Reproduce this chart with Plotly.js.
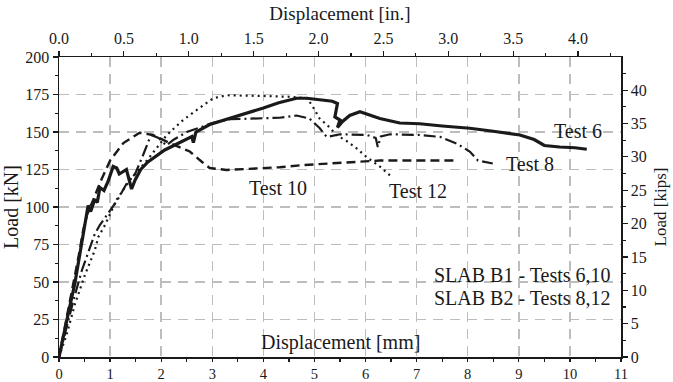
<!DOCTYPE html>
<html>
<head>
<meta charset="utf-8">
<script src="https://cdn.plot.ly/plotly-3.0.1.min.js"></script>
<style>html,body{margin:0;padding:0;background:#fff;}#chart{width:673px;height:382px;}</style>
</head>
<body>
<div id="chart"></div>
<script>
// Displacement [mm] and Load [kN]
const test6_x = [0, 0.1, 0.21, 0.31, 0.41, 0.51, 0.57, 0.62, 0.7, 0.75, 0.8, 0.88, 0.96, 1.06, 1.13, 1.18, 1.23, 1.32, 1.42, 1.49, 1.6, 1.74, 2.07, 2.3, 2.6, 2.63, 2.68, 2.95, 3.35, 3.54, 4.0, 4.3, 4.65, 4.85, 5.1, 5.35, 5.45, 5.4, 5.5, 5.45, 5.55, 5.69, 5.89, 6.28, 6.67, 7.06, 7.5, 8.04, 8.5, 9.02, 9.3, 9.5, 9.8, 10.1, 10.33];
const test6_y = [0, 17, 33.5, 49, 69, 91, 101, 97, 105, 103, 113, 111, 117, 127, 126, 122, 123, 125, 112, 118, 125, 130, 138, 142, 147, 143, 150, 155, 159, 161, 166, 169.5, 172.5, 172.5, 171.5, 170.5, 169, 160, 158, 153, 157, 161, 163.5, 159, 156, 155.5, 154, 152.5, 150.5, 148, 145, 141, 140, 139.5, 138.5];

const test8_x = [0, 0.15, 0.3, 0.45, 0.6, 0.7, 0.8, 1.0, 1.15, 1.33, 1.49, 1.65, 1.8, 1.95, 2.1, 2.25, 2.5, 2.76, 3.0, 3.35, 4.0, 4.32, 4.65, 4.9, 5.1, 5.24, 5.5, 6.03, 6.2, 6.24, 6.3, 6.48, 7.06, 7.46, 7.8, 8.04, 8.2, 8.49];
const test8_y = [0, 20, 40, 58, 72, 82, 88, 98, 105, 116, 122, 135, 148, 146, 141, 145, 150, 153, 156, 158.5, 159, 159.5, 161, 159, 152.7, 146.7, 148.5, 148, 146, 140, 147, 148.5, 148, 146.7, 142, 137, 131, 129];

const test10_x = [0, 0.1, 0.2, 0.3, 0.4, 0.47, 0.55, 0.67, 0.8, 1.0, 1.26, 1.58, 1.84, 2.17, 2.56, 2.8, 2.95, 3.28, 3.8, 4.32, 4.8, 5.3, 5.8, 6.28, 7.06, 7.78];
const test10_y = [0, 17, 34, 52, 70, 84, 95, 104.7, 116, 131, 142.6, 149.5, 148, 142.6, 137, 130, 126, 124.7, 125.5, 126.5, 128, 129, 130, 131, 131, 131];

const test12_x = [0, 0.15, 0.31, 0.51, 0.7, 0.77, 0.9, 1.13, 1.39, 1.72, 2.11, 2.43, 2.75, 3.02, 3.28, 3.6, 4.0, 4.5, 4.85, 4.95, 5.1, 5.3, 5.43, 5.63, 5.83, 6.03, 6.28, 6.48];
const test12_y = [0, 15, 35, 55, 71, 80, 88, 105, 118, 131, 148, 158, 166, 172.5, 174.5, 174.5, 174, 173.5, 172.5, 168, 159, 153, 148, 144, 139, 133, 127, 121];

const mm_ticks = [0,1,2,3,4,5,6,7,8,9,10,11];
const in_ticks = [0.0,0.5,1.0,1.5,2.0,2.5,3.0,3.5,4.0];
const in_labels = ["0.0","0.5","1.0","1.5","2.0","2.5","3.0","3.5","4.0"];
const kn_ticks = [0,25,50,75,100,125,150,175,200];
const kips_ticks = [0,5,10,15,20,25,30,35,40];

const MM_MAX = 11, KN_MAX = 200;
const MM_PER_IN_UNIT = 2.54;   // top axis scale
const KN_PER_KIP = 4.448222;

const F = "Liberation Serif, Times New Roman, serif";
const ink = "#1a1a1a";

const traces = [
  {x: test6_x, y: test6_y, mode: "lines", name: "Test 6", line: {color: ink, width: 3.2, dash: "solid"}},
  {x: test8_x, y: test8_y, mode: "lines", name: "Test 8", line: {color: ink, width: 2.2, dash: "12px,4px,2px,4px"}},
  {x: test10_x, y: test10_y, mode: "lines", name: "Test 10", line: {color: ink, width: 2.4, dash: "9px,5px"}},
  {x: test12_x, y: test12_y, mode: "lines", name: "Test 12", line: {color: ink, width: 2.2, dash: "2px,4px"}},
  // anchors for the secondary (inch / kips) axes
  {x: [0], y: [0], xaxis: "x2", yaxis: "y2", mode: "markers", marker: {opacity: 0}, hoverinfo: "skip", showlegend: false}
];

const axBase = {
  showline: true, linecolor: ink, linewidth: 1.5, mirror: false,
  ticks: "outside", ticklen: 5, tickwidth: 1.2, tickcolor: ink,
  tickfont: {family: F, size: 16, color: ink}, zeroline: false
};

const layout = {
  width: 673, height: 382,
  margin: {l: 59, r: 52, t: 57, b: 25},
  paper_bgcolor: "#fff", plot_bgcolor: "#fff",
  showlegend: false,
  font: {family: F, color: ink},
  xaxis: Object.assign({}, axBase, {
    range: [0, MM_MAX], tickvals: mm_ticks, ticktext: mm_ticks.map(String),
    ticklen: 3, tickfont: {family: F, size: 14.5, color: ink},
    showgrid: true, gridcolor: "#bdbdbd", gridwidth: 1.5, griddash: "10px,7px",
    minor: {dtick: 0.5, ticklen: 3, tickcolor: ink, ticks: "outside"}
  }),
  yaxis: Object.assign({}, axBase, {
    range: [0, KN_MAX], tickvals: kn_ticks, ticktext: kn_ticks.map(String),
    showgrid: true, gridcolor: "#bdbdbd", gridwidth: 1.5, griddash: "10px,7px",
    title: {text: "Load [kN]", font: {family: F, size: 20, color: ink}, standoff: 6},
    minor: {dtick: 12.5, ticklen: 3, tickcolor: ink, ticks: "outside"}
  }),
  xaxis2: Object.assign({}, axBase, {
    overlaying: "x", side: "top", anchor: "y",
    range: [0, MM_MAX / MM_PER_IN_UNIT], tickvals: in_ticks, ticktext: in_labels,
    showgrid: false,
    title: {text: "Displacement [in.]", font: {family: F, size: 19, color: ink}, standoff: 4},
    minor: {dtick: 0.25, ticklen: 3, tickcolor: ink, ticks: "outside"}
  }),
  yaxis2: Object.assign({}, axBase, {
    overlaying: "y", side: "right", anchor: "x",
    range: [0, KN_MAX / KN_PER_KIP], tickvals: kips_ticks, ticktext: kips_ticks.map(String),
    showgrid: false,
    title: {text: "Load [kips]", font: {family: F, size: 17, color: ink}, standoff: 8},
    minor: {dtick: 2.5, ticklen: 3, tickcolor: ink, ticks: "outside"}
  }),
  annotations: [
    {x: 5.5, y: 9.5, xref: "x", yref: "y", text: "Displacement [mm]", showarrow: false, font: {family: F, size: 20, color: ink}},
    {x: 10.16, y: 151, xref: "x", yref: "y", text: "Test 6", showarrow: false, font: {family: F, size: 20, color: ink}},
    {x: 9.22, y: 129, xref: "x", yref: "y", text: "Test 8", showarrow: false, font: {family: F, size: 20, color: ink}},
    {x: 4.29, y: 113, xref: "x", yref: "y", text: "Test 10", showarrow: false, font: {family: F, size: 20, color: ink}},
    {x: 7.03, y: 111, xref: "x", yref: "y", text: "Test 12", showarrow: false, font: {family: F, size: 20, color: ink}},
    {x: 10.85, y: 54.7, xref: "x", yref: "y", xanchor: "right", text: "SLAB B1 - Tests 6,10", showarrow: false, font: {family: F, size: 20, color: ink}},
    {x: 10.85, y: 39.3, xref: "x", yref: "y", xanchor: "right", text: "SLAB B2 - Tests 8,12", showarrow: false, font: {family: F, size: 20, color: ink}}
  ]
};

Plotly.newPlot("chart", traces, layout, {displayModeBar: false, staticPlot: true});
</script>
</body>
</html>
